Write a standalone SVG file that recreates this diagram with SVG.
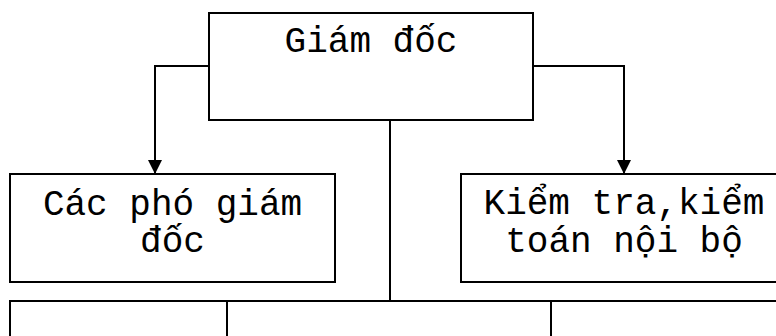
<svg xmlns="http://www.w3.org/2000/svg" width="776" height="336" viewBox="0 0 776 336">
  <style>
    .box { fill: #ffffff; stroke: #000000; stroke-width: 2; }
    .wire { fill: none; stroke: #000000; stroke-width: 2; }
    .label { font-family: "Liberation Mono", "Courier New", monospace; font-size: 36px; fill: #000000; text-anchor: middle; }
  </style>
  <defs>
    <marker id="arrow" markerUnits="userSpaceOnUse" markerWidth="14" markerHeight="14" refX="14" refY="7" orient="auto">
      <path d="M0,0 L14,7 L0,14 Z" fill="#000000"/>
    </marker>
  </defs>
  <rect width="776" height="336" fill="#ffffff"/>

  <!-- connectors -->
  <g id="connectors">
    <path class="wire" d="M209,66 H155 V174" marker-end="url(#arrow)"/>
    <path class="wire" d="M533,66 H624 V174" marker-end="url(#arrow)"/>
    <path class="wire" d="M390,120 V301"/>
  </g>

  <!-- director -->
  <g id="giam-doc">
    <rect class="box" x="209" y="13" width="324" height="107"/>
    <text class="label" x="371" y="52">Giám đốc</text>
  </g>

  <!-- deputy directors -->
  <g id="pho-giam-doc">
    <rect class="box" x="10" y="174" width="325" height="108"/>
    <text class="label" x="172.5" y="215">Các phó giám</text>
    <text class="label" x="172.5" y="252">đốc</text>
  </g>

  <!-- internal audit -->
  <g id="kiem-toan">
    <rect class="box" x="461" y="174" width="326" height="108"/>
    <text class="label" x="624" y="214">Kiểm tra,kiểm</text>
    <text class="label" x="624" y="252">toán nội bộ</text>
  </g>

  <!-- lower row of departments -->
  <g id="phong-1">
    <rect class="box" x="10" y="301" width="217" height="100"/>
  </g>
  <g id="phong-2">
    <rect class="box" x="227" y="301" width="324" height="100"/>
  </g>
  <g id="phong-3">
    <rect class="box" x="551" y="301" width="324" height="100"/>
  </g>
</svg>
